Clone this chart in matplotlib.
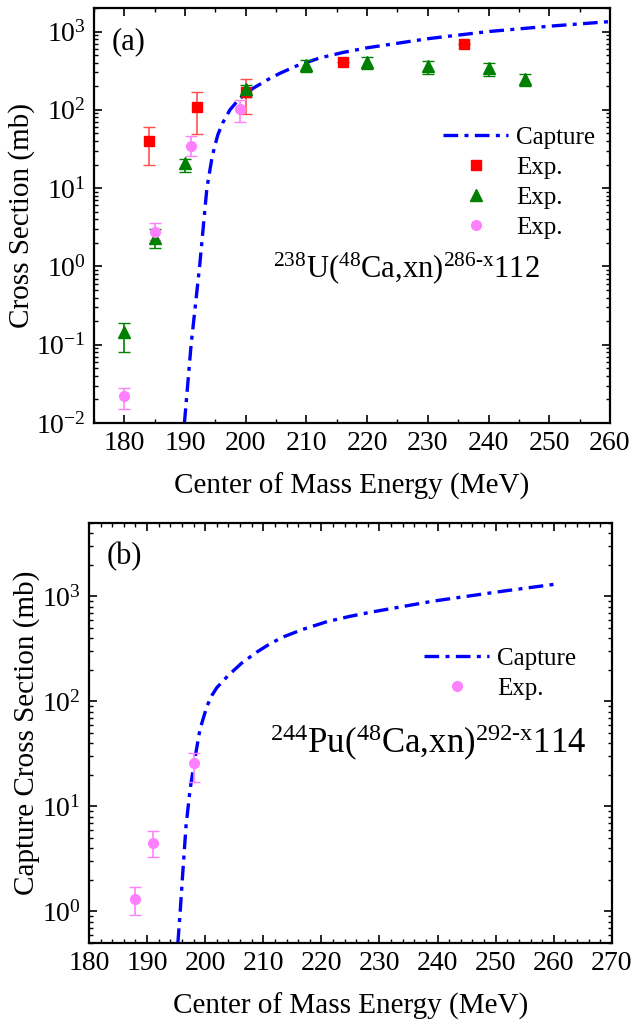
import matplotlib
matplotlib.use('Agg')
import matplotlib.pyplot as plt
import numpy as np
from matplotlib.ticker import LogLocator, MultipleLocator, NullFormatter

plt.rcParams['font.family'] = ['Liberation Serif', 'DejaVu Serif']
plt.rcParams['mathtext.fontset'] = 'custom'
plt.rcParams['mathtext.rm'] = 'Liberation Serif'
plt.rcParams['mathtext.it'] = 'Liberation Serif:italic'

# panel (a): capture curve
capA_E = [189.9, 191.0, 192.4, 193.6, 194.5, 195.4, 196.2, 197.4, 199.0, 201.2,
          203.5, 205.6, 208.4, 212.2, 216, 220, 230, 240, 250, 260]
capA_s = [0.01, 0.1, 1.0, 10, 26, 48, 68, 100, 140, 188,
          240, 292, 365, 460, 540, 620, 810, 1000, 1170, 1340]

# panel (a): experiments (value, lower bound, upper bound)
red_E = [184, 192, 200, 216, 236]
red_s = [40, 110, 170, 405, 700]
red_lo = [20, 49, 88, 405, 700]
red_hi = [60, 167, 245, 405, 700]

green_E = [180, 185, 190, 200, 210, 220, 230, 240, 246]
green_s = [0.145, 2.3, 21, 182, 370, 405, 360, 340, 250]
green_lo = [0.081, 1.7, 16, 145, 300, 330, 290, 268, 200]
green_hi = [0.19, 3.0, 23.5, 205, 430, 467, 415, 400, 290]

pinkA_E = [180, 185, 191, 199]
pinkA_s = [0.022, 2.75, 34.5, 101]
pinkA_lo = [0.015, 2.2, 26, 69]
pinkA_hi = [0.028, 3.6, 46, 132]

# panel (b)
capB_E = [195.3, 195.7, 196.2, 196.7, 197.4, 198.1, 199.1, 200.3, 201.2, 202.0, 203.9,
          206.3, 208.9, 211.2, 213.4, 216.8, 221.0, 224.9, 228.4, 239.2, 250.7, 260]
capB_s = [0.5, 1.0, 2.6, 6.5, 14.5, 26, 54, 90, 115, 135, 175,
          232, 295, 355, 410, 485, 575, 645, 705, 900, 1110, 1300]

pinkB_E = [188, 191, 198]
pinkB_s = [1.3, 4.45, 25.7]
pinkB_lo = [0.92, 3.3, 17]
pinkB_hi = [1.7, 5.8, 32]

BLUE = '#0000ff'
RED = '#ff0000'
GREEN = '#008000'
PINK = '#ff80ff'
DASH = (4.4, 1.9, 1.2, 1.9)


def errs(v, lo, hi):
    v = np.array(v)
    return [v - np.array(lo), np.array(hi) - v]


def style(ax, xmaj, xmin):
    ax.set_yscale('log')
    ax.xaxis.set_major_locator(MultipleLocator(xmaj))
    ax.xaxis.set_minor_locator(MultipleLocator(xmin))
    ax.yaxis.set_major_locator(LogLocator(base=10, numticks=20))
    ax.yaxis.set_minor_locator(LogLocator(base=10, subs=np.arange(2, 10), numticks=20))
    ax.yaxis.set_minor_formatter(NullFormatter())
    ax.tick_params(which='both', direction='in', top=True, right=True, labelsize=20)
    ax.tick_params(which='major', length=6, width=1.2, pad=6)
    ax.tick_params(which='minor', length=3, width=1.0)
    for s in ax.spines.values():
        s.set_linewidth(1.6)


fig = plt.figure(figsize=(6.33, 10.36), dpi=100)

# ---------- (a)
ax1 = fig.add_axes([0.1485, 0.5917, 0.815, 0.4006])
ax1.plot(capA_E, capA_s, color=BLUE, lw=2.4, dashes=DASH, label='Capture')
ax1.errorbar(red_E, red_s, yerr=errs(red_s, red_lo, red_hi), fmt='none',
             ecolor='#ff5050', elinewidth=1.2, capsize=4)
ax1.errorbar(green_E, green_s, yerr=errs(green_s, green_lo, green_hi), fmt='none',
             ecolor=GREEN, elinewidth=1.2, capsize=4)
ax1.errorbar(pinkA_E, pinkA_s, yerr=errs(pinkA_s, pinkA_lo, pinkA_hi), fmt='none',
             ecolor=PINK, elinewidth=1.2, capsize=4)
ax1.plot(red_E, red_s, 's', color=RED, ms=7, ls='none', label='Exp.')
ax1.plot(green_E, green_s, '^', color=GREEN, ms=8, ls='none', label='Exp.')
ax1.plot(pinkA_E, pinkA_s, 'o', color=PINK, ms=7, ls='none', label='Exp.')
style(ax1, 10, 5)
ax1.set_xlim(175, 260)
ax1.set_ylim(0.01, 2000)
ax1.set_xlabel('Center of Mass Energy (MeV)', fontsize=21, labelpad=12)
ax1.set_ylabel('Cross Section (mb)', fontsize=21, labelpad=1)
ax1.text(0.035, 0.918, '(a)', transform=ax1.transAxes, fontsize=22, va='center')
ax1.text(0.347, 0.373, r'$^{238}$U($^{48}$Ca,xn)$^{\mathrm{286}\text{-x}}$112',
         transform=ax1.transAxes, fontsize=22, va='center')
ax1.legend(loc='upper right', bbox_to_anchor=(1.0, 0.75), frameon=False, fontsize=18,
           handlelength=2.6, handletextpad=0.3, labelspacing=0.3, borderaxespad=0.2)

# ---------- (b)
ax2 = fig.add_axes([0.1406, 0.0898, 0.826, 0.4054])
ax2.plot(capB_E, capB_s, color=BLUE, lw=2.4, dashes=DASH, label='Capture')
ax2.errorbar(pinkB_E, pinkB_s, yerr=errs(pinkB_s, pinkB_lo, pinkB_hi), fmt='none',
             ecolor=PINK, elinewidth=1.2, capsize=4)
ax2.plot(pinkB_E, pinkB_s, 'o', color=PINK, ms=7, ls='none', label='Exp.')
style(ax2, 10, 2)
ax2.set_xlim(180, 270)
ax2.set_ylim(0.5, 5000)
ax2.set_xlabel('Center of Mass Energy (MeV)', fontsize=21, labelpad=12)
ax2.set_ylabel('Capture Cross Section (mb)', fontsize=21, labelpad=1)
ax2.text(0.034, 0.919, '(b)', transform=ax2.transAxes, fontsize=22, va='center')
ax2.text(0.346, 0.476, r'$^{244}$Pu($^{48}$Ca,xn)$^{\mathrm{292}\text{-x}}$114',
         transform=ax2.transAxes, fontsize=25, va='center')
ax2.legend(loc='upper right', bbox_to_anchor=(0.96, 0.74), frameon=False, fontsize=18,
           handlelength=2.6, handletextpad=0.3, labelspacing=0.3, borderaxespad=0.2)

fig.savefig('out.png', dpi=100)
